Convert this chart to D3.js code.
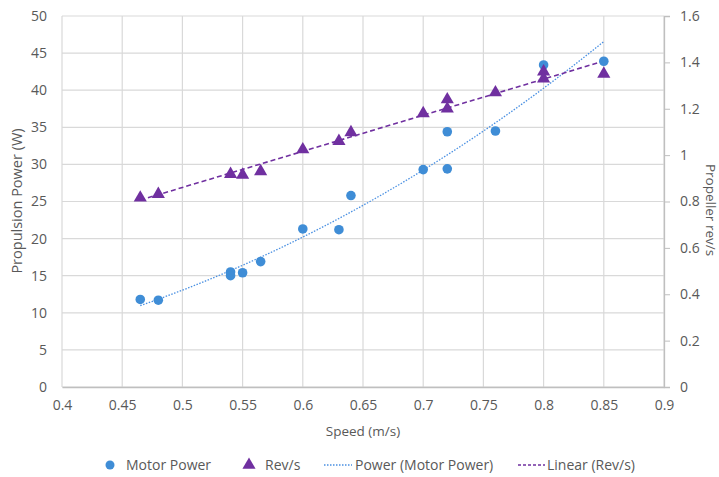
<!DOCTYPE html>
<html>
<head>
<meta charset="utf-8">
<script src="https://cdn.jsdelivr.net/npm/d3@7"></script>
<style>
  body { margin: 0; background: #fff; }
  text { font-family: "Open Sans", Calibri, sans-serif; fill: #595959; }
</style>
</head>
<body>
<div id="chart"></div>
<script>
// data
var speed      = [0.465, 0.48, 0.54, 0.54, 0.55, 0.565, 0.60, 0.63, 0.64, 0.70, 0.72, 0.72, 0.76, 0.80, 0.85];
var motorPower = [11.8, 11.7, 15.5, 15.0, 15.4, 16.9, 21.3, 21.2, 25.8, 29.3, 34.4, 29.4, 34.5, 43.4, 43.9];
var revSpeed   = [0.465, 0.48, 0.54, 0.55, 0.565, 0.60, 0.63, 0.64, 0.70, 0.72, 0.72, 0.76, 0.80, 0.80, 0.85];
var revs       = [0.816, 0.832, 0.918, 0.915, 0.93, 1.024, 1.06, 1.098, 1.18, 1.24, 1.20, 1.27, 1.36, 1.33, 1.35];
var xTicks = [0.4, 0.45, 0.5, 0.55, 0.6, 0.65, 0.7, 0.75, 0.8, 0.85, 0.9];
var yTicks = [0, 5, 10, 15, 20, 25, 30, 35, 40, 45, 50];
var y2Ticks = [0, 0.2, 0.4, 0.6, 0.8, 1, 1.2, 1.4, 1.6];
var legendLabels = ["Motor Power", "Rev/s", "Power (Motor Power)", "Linear (Rev/s)"];

var width = 719, height = 477;
var margin = { top: 16, right: 55, bottom: 90, left: 62 };

var svg = d3.select("#chart").append("svg")
    .attr("width", width)
    .attr("height", height);

var x = d3.scaleLinear().domain([0.4, 0.9]).range([margin.left, width - margin.right]);
var y = d3.scaleLinear().domain([0, 50]).range([height - margin.bottom, margin.top]);
var y2 = d3.scaleLinear().domain([0, 1.6]).range([height - margin.bottom, margin.top]);

var blue = "#3f8dd6", purple = "#7030a0";

// gridlines
svg.append("g").selectAll("line").data(yTicks).enter().append("line")
    .attr("x1", x(0.4)).attr("x2", x(0.9))
    .attr("y1", function(d) { return y(d); }).attr("y2", function(d) { return y(d); })
    .attr("stroke", "#d9d9d9").attr("stroke-width", 1.2);
svg.append("g").selectAll("line").data(xTicks).enter().append("line")
    .attr("x1", function(d) { return x(d); }).attr("x2", function(d) { return x(d); })
    .attr("y1", y(0)).attr("y2", y(50))
    .attr("stroke", "#d9d9d9").attr("stroke-width", 1.2);

// axes
var xAxis = svg.append("g")
    .attr("transform", "translate(0," + y(0) + ")")
    .call(d3.axisBottom(x).tickValues(xTicks).tickSize(0).tickPadding(13).tickFormat(d3.format("")));
var yAxis = svg.append("g")
    .attr("transform", "translate(" + x(0.4) + ",0)")
    .call(d3.axisLeft(y).tickValues(yTicks).tickSize(0).tickPadding(15));
var y2Axis = svg.append("g")
    .attr("transform", "translate(" + x(0.9) + ",0)")
    .call(d3.axisRight(y2).tickValues(y2Ticks).tickSize(6).tickPadding(10).tickFormat(d3.format("")));

[xAxis, yAxis, y2Axis].forEach(function(a) {
    a.selectAll("text").style("font-size", "14px").attr("fill", "#595959");
    a.selectAll(".tick line").attr("stroke", "#bfbfbf");
});
xAxis.select(".domain").attr("stroke", "#bfbfbf").attr("stroke-width", 1.3);
yAxis.select(".domain").remove();
y2Axis.select(".domain").attr("stroke", "#bfbfbf").attr("stroke-width", 1.3);

// axis titles
svg.append("text").attr("x", x(0.65)).attr("y", 436)
    .attr("text-anchor", "middle").style("font-size", "13.5px").text("Speed (m/s)");
svg.append("text").attr("transform", "translate(22,201) rotate(-90)")
    .attr("text-anchor", "middle").style("font-size", "14.5px").text("Propulsion Power (W)");
svg.append("text").attr("transform", "translate(706,210) rotate(90)")
    .attr("text-anchor", "middle").style("font-size", "13.5px").text("Propeller rev/s");

// trendlines fitted from the data
var lx = speed.map(Math.log), ly = motorPower.map(Math.log);
var mx = d3.mean(lx), my = d3.mean(ly);
var b = d3.sum(lx, function(v, i) { return (v - mx) * (ly[i] - my); }) / d3.sum(lx, function(v) { return (v - mx) * (v - mx); });
var a = Math.exp(my - b * mx);
var powerFit = d3.range(0, 41).map(function(i) {
    var s = 0.465 + (0.85 - 0.465) * i / 40;
    return [s, a * Math.pow(s, b)];
});
svg.append("path").datum(powerFit)
    .attr("fill", "none").attr("stroke", "#4a90e2").attr("stroke-width", 1.3)
    .attr("stroke-dasharray", "1.5,1.5")
    .attr("d", d3.line().x(function(d) { return x(d[0]); }).y(function(d) { return y(d[1]); }));

var rmx = d3.mean(revSpeed), rmy = d3.mean(revs);
var slope = d3.sum(revSpeed, function(v, i) { return (v - rmx) * (revs[i] - rmy); }) / d3.sum(revSpeed, function(v) { return (v - rmx) * (v - rmx); });
var icpt = rmy - slope * rmx;
var linFit = [0.465, 0.85].map(function(s) { return [s, icpt + slope * s]; });
svg.append("path").datum(linFit)
    .attr("fill", "none").attr("stroke", purple).attr("stroke-width", 1.6)
    .attr("stroke-dasharray", "5,3")
    .attr("d", d3.line().x(function(d) { return x(d[0]); }).y(function(d) { return y2(d[1]); }));

// markers
svg.append("g").selectAll("circle").data(speed).enter().append("circle")
    .attr("cx", function(d) { return x(d); })
    .attr("cy", function(d, i) { return y(motorPower[i]); })
    .attr("r", 4.8).attr("fill", blue);

var tri = d3.symbol().type(d3.symbolTriangle).size(75);
svg.append("g").selectAll("path").data(revSpeed).enter().append("path")
    .attr("d", tri)
    .attr("transform", function(d, i) { return "translate(" + x(d) + "," + y2(revs[i]) + ")"; })
    .attr("fill", purple);

// legend
var ly0 = 465;
var lg = svg.append("g");
lg.append("circle").attr("cx", 110).attr("cy", ly0).attr("r", 4.5).attr("fill", blue);
lg.append("text").attr("x", 126).attr("y", ly0 + 5).style("font-size", "14px").text(legendLabels[0]);
lg.append("path").attr("d", tri).attr("transform", "translate(249," + ly0 + ")").attr("fill", purple);
lg.append("text").attr("x", 265).attr("y", ly0 + 5).style("font-size", "14px").text(legendLabels[1]);
lg.append("line").attr("x1", 324).attr("x2", 352).attr("y1", ly0).attr("y2", ly0)
    .attr("stroke", "#4a90e2").attr("stroke-width", 1.3).attr("stroke-dasharray", "1.5,1.5");
lg.append("text").attr("x", 355).attr("y", ly0 + 5).style("font-size", "14px").text(legendLabels[2]);
lg.append("line").attr("x1", 518).attr("x2", 545).attr("y1", ly0).attr("y2", ly0)
    .attr("stroke", purple).attr("stroke-width", 1.3).attr("stroke-dasharray", "3,2");
lg.append("text").attr("x", 547).attr("y", ly0 + 5).style("font-size", "14px").text(legendLabels[3]);
</script>
</body>
</html>
